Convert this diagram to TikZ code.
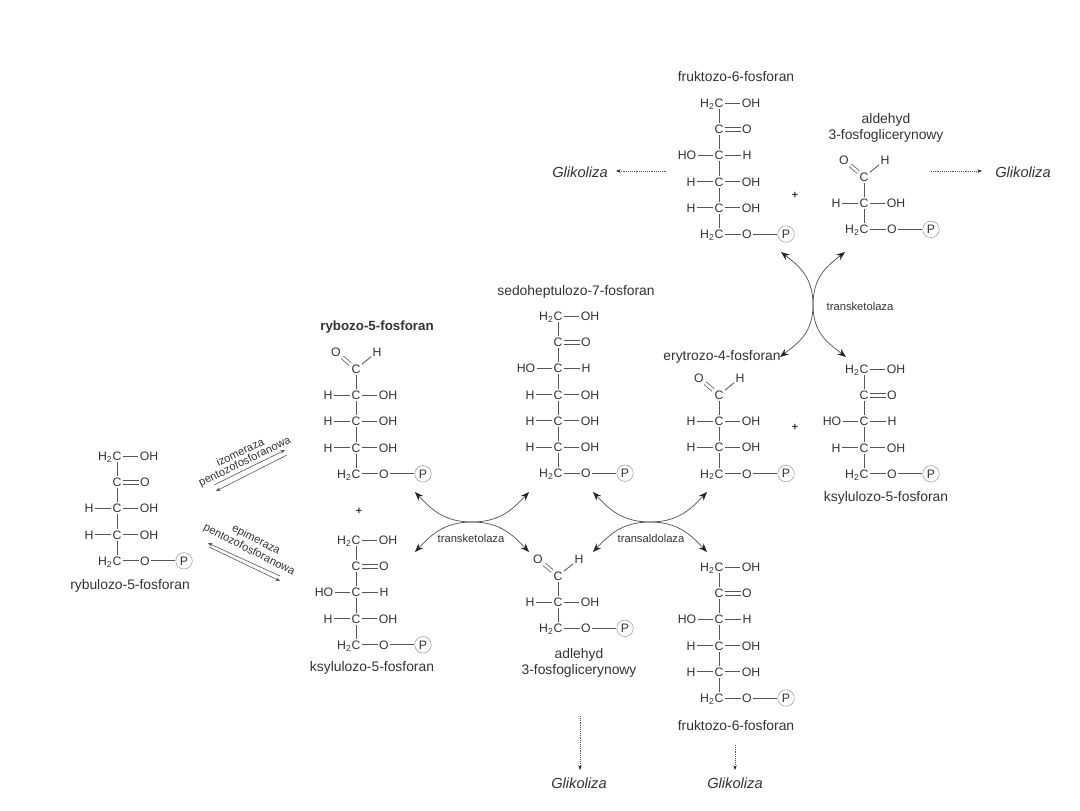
\documentclass[tikz,border=0pt]{standalone}
\usepackage{fontspec}
\setmainfont{Liberation Sans}
\usetikzlibrary{arrows.meta,calc}
\definecolor{ink}{HTML}{333333}
\definecolor{bondc}{HTML}{555555}
\tikzset{
  atom/.style={font=\fontsize{9.2}{10}\selectfont,text=ink,inner sep=0.9pt,text height=6.7pt,text depth=0pt},
  hydro/.style={font=\fontsize{9.2}{10}\selectfont,text=ink,inner sep=0pt,anchor=base east},
  namelabel/.style={font=\fontsize{10.4}{12}\selectfont,text=ink,inner sep=0pt,align=center},
  enzyme/.style={font=\fontsize{8.4}{10}\selectfont,text=ink,inner sep=0pt},
  pathway/.style={font=\fontsize{11}{13}\selectfont\itshape,text=ink,inner sep=0pt},
  plussign/.style={font=\fontsize{8}{9}\selectfont\bfseries,text=ink,inner sep=0pt},
  bond/.style={draw=bondc,line width=0.65pt},
  dbond/.style={draw=bondc,line width=0.55pt,double=white,double distance=2pt},
  phos/.style={circle,draw=black!40,line width=0.4pt,minimum size=12.4pt,inner sep=0pt,
    font=\fontsize{9.2}{10}\selectfont,text=ink},
  curved/.style={draw=bondc,line width=0.55pt,-{Stealth[length=6.5pt,width=5pt,color=black!85]}},
  straight/.style={draw=bondc,line width=0.45pt,-{Stealth[length=3.5pt,width=2.6pt]}},
  dots/.style={draw=bondc,line width=0.4pt,densely dotted,-{Stealth[length=3.5pt,width=2.6pt,color=black!85]}},
}
% Atom rows of an open-chain sugar; #1 is the name of the row's carbon, (#2,#3) its position
\newcommand\rowtop[3]{%
  \node[atom] (#1) at (#2,#3) {C};
  \node[hydro] (#1-h) at ($(#1.base west)+(1.6,0)$) {H\textsubscript{2}};
  \node[atom] (#1-r) at ($(#2,#3)+(32,0)$) {OH};
  \draw[bond] (#1) -- (#1-r);}
\newcommand\rowketo[3]{%
  \node[atom] (#1) at (#2,#3) {C};
  \node[atom] (#1-r) at ($(#2,#3)+(28,0)$) {O};
  \draw[bond,line width=0.55pt] ($(#1.east)+(0,-2)$) -- ($(#1-r.west)+(0,-2)$);
  \draw[bond,line width=0.55pt] ($(#1.east)+(0,2)$) -- ($(#1-r.west)+(0,2)$);}
\newcommand\rowhoh[3]{%
  \node[atom] (#1) at (#2,#3) {C};
  \node[atom] (#1-l) at ($(#2,#3)+(-28,0)$) {H};
  \node[atom] (#1-r) at ($(#2,#3)+(32,0)$) {OH};
  \draw[bond] (#1-l) -- (#1);
  \draw[bond] (#1) -- (#1-r);}
\newcommand\rowohh[3]{%
  \node[atom] (#1) at (#2,#3) {C};
  \node[atom] (#1-l) at ($(#2,#3)+(-32,0)$) {HO};
  \node[atom] (#1-r) at ($(#2,#3)+(28,0)$) {H};
  \draw[bond] (#1-l) -- (#1);
  \draw[bond] (#1) -- (#1-r);}
\newcommand\rowtail[3]{%
  \node[atom] (#1) at (#2,#3) {C};
  \node[hydro] (#1-h) at ($(#1.base west)+(1.6,0)$) {H\textsubscript{2}};
  \node[atom] (#1-o) at ($(#2,#3)+(28,0)$) {O};
  \node[phos] (#1-p) at ($(#2,#3)+(67,0)$) {P};
  \draw[bond] (#1) -- (#1-o);
  \draw[bond] (#1-o) -- (#1-p);}
\newcommand\rowald[3]{%
  \node[atom] (#1) at (#2,#3) {C};
  \node[atom] (#1-o) at ($(#2,#3)+(-20,-17)$) {O};
  \node[atom] (#1-h) at ($(#2,#3)+(21,-17)$) {H};
  \draw[dbond] (#1) -- (#1-o);
  \draw[bond] (#1) -- (#1-h);}
% A whole chain: name, carbon x, first row y, list of row kinds
\newcommand\sugar[4]{%
  \foreach \kind [count=\i] in {#4} {
    \pgfmathsetmacro\rowy{#3+26.2*(\i-1)}
    \pgfmathtruncatemacro\prev{\i-1}
    \csname row\kind\endcsname{#1-\i}{#2}{\rowy}
    \ifnum\i>1 \draw[bond] (#1-\prev) -- (#1-\i); \fi
  }}
% One enzyme crossing: four curved arrows from a common centre
\newcommand\crossh[6]{%
  \coordinate (#1) at (#2,#3);
  \coordinate (#1-ul) at (#2-57,#3-30);
  \coordinate (#1-ur) at (#2+57,#3-30);
  \coordinate (#1-ll) at (#2-57,#3+30);
  \coordinate (#1-lr) at (#2+57,#3+30);
  \draw[curved] (#1) .. controls ($(#1)+(-28,0)$) and ($(#1-ul)+(16,17)$) .. (#1-ul);
  \draw[curved] (#1) .. controls ($(#1)+(28,0)$) and ($(#1-ur)+(-16,17)$) .. (#1-ur);
  \draw[curved] (#1) .. controls ($(#1)+(-28,0)$) and ($(#1-ll)+(16,-17)$) .. (#1-ll);
  \draw[curved] (#1) .. controls ($(#1)+(28,0)$) and ($(#1-lr)+(-16,-17)$) .. (#1-lr);
  \node[enzyme] (#1-name) at (#4,#5) {#6};}
\begin{document}
\begin{tikzpicture}[x=0.75pt,y=-0.75pt]
\useasboundingbox (0,0) rectangle (1080,810);

% rybulose phosphate and the two reversible steps leaving it
\sugar{rbl}{117}{456}{top,keto,hoh,hoh,tail}
\node[namelabel] (rbl-name) at (130,586) {rybulozo-5-fosforan};

\node[enzyme,rotate=26] (iso-a) at (240,452) {izomeraza};
\node[enzyme,rotate=26] (iso-b) at (245,462) {pentozofosforanowa};
\coordinate (iso-1) at (214,485); \coordinate (iso-2) at (285,450);
\coordinate (iso-3) at (287,455); \coordinate (iso-4) at (216,491);
\draw[straight] (iso-1) -- (iso-2);
\draw[straight] (iso-3) -- (iso-4);

\node[enzyme,rotate=-27] (epi-a) at (256,540) {epimeraza};
\node[enzyme,rotate=-27] (epi-b) at (249,550) {pentozofosforanowa};
\coordinate (epi-1) at (280,576); \coordinate (epi-2) at (208,543);
\coordinate (epi-3) at (209,547); \coordinate (epi-4) at (280,581);
\draw[straight] (epi-1) -- (epi-2);
\draw[straight] (epi-3) -- (epi-4);

% first transketolase substrates
\node[namelabel,font=\fontsize{10}{12}\selectfont\bfseries] (rib-name) at (377,327) {rybozo-5-fosforan};
\sugar{rib}{356}{369}{ald,hoh,hoh,hoh,tail}
\node[plussign] (plus-a) at (359,511) {+};
\sugar{xla}{356}{540}{top,keto,ohh,hoh,tail}
\node[namelabel] (xla-name) at (372,668) {ksylulozo-5-fosforan};

% central products
\node[namelabel] (sed-name) at (576,292) {sedoheptulozo-7-fosforan};
\sugar{sed}{558}{316}{top,keto,ohh,hoh,hoh,hoh,tail}
\sugar{gap}{558}{576}{ald,hoh,tail}
\node[namelabel] (gap-name) at (579,663) {adlehyd\\3-fosfoglicerynowy};

% second column
\node[namelabel] (ery-name) at (722,357) {erytrozo-4-fosforan};
\sugar{ery}{719}{395}{ald,hoh,hoh,tail}
\node[plussign] (plus-b) at (795,427) {+};
\sugar{xlb}{864}{369}{top,keto,ohh,hoh,tail}
\node[namelabel] (xlb-name) at (886,498) {ksylulozo-5-fosforan};

\sugar{frb}{719}{567}{top,keto,ohh,hoh,hoh,tail}
\node[namelabel] (frb-name) at (736,726) {fruktozo-6-fosforan};

% top products
\node[namelabel] (frt-name) at (736,77) {fruktozo-6-fosforan};
\sugar{frt}{719}{103}{top,keto,ohh,hoh,hoh,tail}
\node[plussign] (plus-c) at (795,195) {+};
\node[namelabel] (gat-name) at (886,128) {aldehyd\\3-fosfoglicerynowy};
\sugar{gat}{864}{177}{ald,hoh,tail}

% enzyme crossings
\crossh{tka}{472}{522}{471}{538}{transketolaza}
\crossh{tal}{650}{522}{651}{538}{transaldolaza}

\coordinate (tkb) at (813,305);
\coordinate (tkb-ul) at (781,252); \coordinate (tkb-ur) at (845,252);
\coordinate (tkb-ll) at (780,357); \coordinate (tkb-lr) at (846,357);
\draw[curved] (tkb) .. controls ($(tkb)+(0,-28)$) and ($(tkb-ul)+(18,14)$) .. (tkb-ul);
\draw[curved] (tkb) .. controls ($(tkb)+(0,-28)$) and ($(tkb-ur)+(-18,14)$) .. (tkb-ur);
\draw[curved] (tkb) .. controls ($(tkb)+(0,28)$) and ($(tkb-ll)+(18,-14)$) .. (tkb-ll);
\draw[curved] (tkb) .. controls ($(tkb)+(0,28)$) and ($(tkb-lr)+(-18,-14)$) .. (tkb-lr);
\node[enzyme] (tkb-name) at (860,306) {transketolaza};

% exits to glycolysis
\node[pathway] (gl-a) at (580,172) {Glikoliza};
\node[pathway] (gl-b) at (1023,172) {Glikoliza};
\node[pathway] (gl-c) at (579,783) {Glikoliza};
\node[pathway] (gl-d) at (735,783) {Glikoliza};
\coordinate (ex-a) at (666,171); \coordinate (to-a) at (616,171);
\coordinate (ex-b) at (931,171); \coordinate (to-b) at (982,171);
\coordinate (ex-c) at (580,716); \coordinate (to-c) at (580,770);
\coordinate (ex-d) at (735,745); \coordinate (to-d) at (735,770);
\draw[dots] (ex-a) -- (to-a);
\draw[dots] (ex-b) -- (to-b);
\draw[dots] (ex-c) -- (to-c);
\draw[dots] (ex-d) -- (to-d);
\end{tikzpicture}
\end{document}
